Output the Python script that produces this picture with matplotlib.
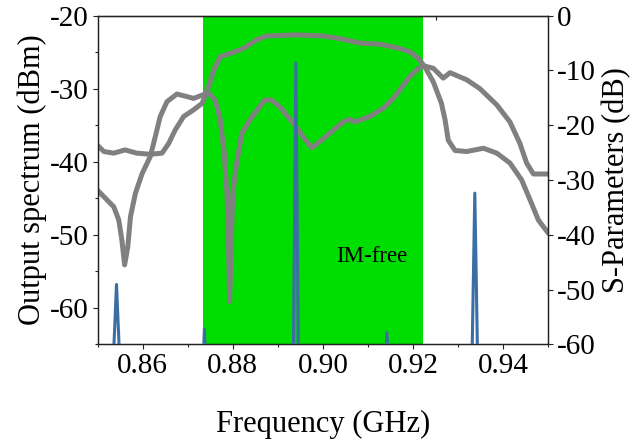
import matplotlib
matplotlib.use("Agg")
import matplotlib.pyplot as plt
from matplotlib.ticker import MultipleLocator

plt.rcParams['font.family'] = ['Liberation Serif', 'DejaVu Serif']
plt.rcParams['axes.unicode_minus'] = False

# ---- data ----
band = [0.8735, 0.9221]  # IM-free band (GHz)

spec_freq = [0.850, 0.8533, 0.8542, 0.8551, 0.8733, 0.8737, 0.8741,
             0.8934, 0.8940, 0.8946, 0.9138, 0.9142, 0.9146,
             0.9330, 0.9337, 0.9344, 0.950]
spec_power = [-70, -70, -56.8, -70, -70, -62.9, -70,
              -70, -26.5, -70, -70, -63.4, -70,
              -70, -44.3, -70, -70]

s_a_freq = [0.8499, 0.8514, 0.8536, 0.8561, 0.8587, 0.8617, 0.8643, 0.8658,
            0.8672, 0.8691, 0.8713, 0.8732, 0.8746, 0.8758, 0.8772, 0.8794,
            0.8823, 0.8853, 0.8875, 0.8942, 0.9001, 0.9045, 0.9082, 0.9127,
            0.9171, 0.9193, 0.9212, 0.9226, 0.9245, 0.9263, 0.9271, 0.9278,
            0.9293, 0.9319, 0.9356, 0.9386, 0.9415, 0.9441, 0.9463, 0.9478,
            0.9500]
s_a_db = [-23.6, -24.8, -25.1, -24.5, -25.1, -25.3, -25.1, -23.3,
          -20.9, -18.4, -17.2, -16.0, -13.0, -9.9, -7.5, -6.9,
          -6.0, -4.4, -3.7, -3.5, -3.7, -4.3, -5.0, -5.2,
          -6.0, -6.6, -7.8, -9.3, -12.1, -16.0, -19.0, -22.7,
          -24.6, -24.8, -24.2, -25.1, -26.9, -30.0, -34.3, -37.3,
          -39.7]

s_b_freq = [0.8499, 0.8517, 0.8536, 0.8547, 0.8554, 0.8560, 0.8567, 0.8573,
            0.8584, 0.8599, 0.8617, 0.8628, 0.8639, 0.8654, 0.8676, 0.8695,
            0.8713, 0.8732, 0.8746, 0.8761, 0.8772, 0.8781, 0.8787, 0.8791,
            0.8793, 0.8796, 0.8800, 0.8809, 0.8820, 0.8838, 0.8857, 0.8871,
            0.8886, 0.8905, 0.8934, 0.8956, 0.8975, 0.8990, 0.9016, 0.9045,
            0.9060, 0.9071, 0.9104, 0.9134, 0.9156, 0.9171, 0.9193, 0.9212,
            0.9226, 0.9245, 0.9267, 0.9282, 0.9319, 0.9348, 0.9386, 0.9415,
            0.9437, 0.9452, 0.9467, 0.9500]
s_b_db = [-31.8, -33.3, -34.9, -37.3, -41.0, -45.5, -42.2, -36.7,
          -32.4, -28.8, -25.7, -22.1, -18.4, -15.7, -14.3, -14.7,
          -15.1, -14.5, -14.1, -15.4, -19.0, -25.1, -32.4, -43.4,
          -52.2, -43.4, -32.4, -26.7, -21.5, -19.0, -16.9, -15.4,
          -15.4, -16.7, -19.6, -22.1, -24.1, -23.2, -21.4, -19.4,
          -18.9, -19.4, -18.4, -16.9, -15.1, -13.5, -11.1, -9.6,
          -9.2, -9.6, -11.4, -10.4, -11.7, -13.3, -16.3, -19.4,
          -23.3, -26.9, -28.9, -28.9]

x_ticks = [0.86, 0.88, 0.90, 0.92, 0.94]
x_tick_labels = ['0.86', '0.88', '0.90', '0.92', '0.94']
left_ticks = [-60, -50, -40, -30, -20]
right_ticks = [-60, -50, -40, -30, -20, -10, 0]

# ---- figure ----
fig = plt.figure(figsize=(6.39, 4.46), dpi=100)
ax = fig.add_axes([0.1527, 0.228, 0.7053, 0.7368])
ax2 = ax.twinx()

# green band and S-parameter curves on the back axes
ax2.axvspan(band[0], band[1], color='#00dd00', zorder=0, lw=0)
ax2.plot(s_a_freq, s_a_db, color='#808080', lw=3.6,
         solid_capstyle='round', solid_joinstyle='round', zorder=2)
ax2.plot(s_b_freq, s_b_db, color='#808080', lw=3.6,
         solid_capstyle='round', solid_joinstyle='round', zorder=2)

# spectrum on front axes
ax.set_zorder(ax2.get_zorder() + 1)
ax.patch.set_visible(False)
ax.plot(spec_freq, spec_power, color='#3a6ea5', lw=2.2, zorder=3)

ax.set_xlim(0.85, 0.95)
ax.set_ylim(-65, -20)
ax2.set_ylim(-60, 0)

ax.set_xticks(x_ticks)
ax.set_xticklabels(x_tick_labels)
ax.xaxis.set_minor_locator(MultipleLocator(0.01))
ax.set_yticks(left_ticks)
ax.yaxis.set_minor_locator(MultipleLocator(5))
ax2.set_yticks(right_ticks)

fs_tick = 21
fs_lab = 22
ax.tick_params(axis='both', which='major', labelsize=fs_tick, direction='out',
               length=3.5, width=0.8, colors='#222222', labelcolor='black', pad=3)
ax.tick_params(axis='both', which='minor', direction='out', length=2.5,
               width=0.8, colors='#222222')
ax2.tick_params(axis='y', which='major', labelsize=fs_tick, direction='out',
                length=3.5, width=0.8, colors='#222222', labelcolor='black', pad=3)

for a in (ax, ax2):
    for s in a.spines.values():
        s.set_linewidth(0.9)
        s.set_color('#222222')

top = ax.secondary_xaxis('top')
top.set_xticks([0.925])
top.set_xticklabels([''])
top.tick_params(direction='in', length=3, width=0.8, colors='#222222')

ax.set_xlabel('Frequency (GHz)', fontsize=fs_lab, labelpad=22)
ax.set_ylabel('Output spectrum (dBm)', fontsize=fs_lab, labelpad=2)
ax2.set_ylabel('S-Parameters (dB)', fontsize=fs_lab, labelpad=4)

ax.text(0.9108, -53.0, 'IM-free', fontsize=16.5, ha='center', va='center', zorder=5)

fig.savefig('out.png', dpi=100)
